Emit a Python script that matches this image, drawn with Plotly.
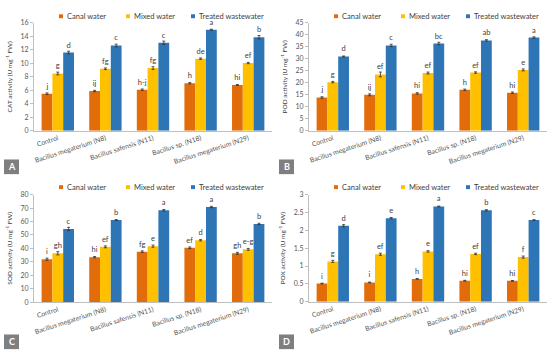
import plotly.graph_objects as go

# ---------------- data ----------------
categories = ["Control", "Bacillus megaterium (N8)", "Bacillus safensis (N11)",
              "Bacillus sp. (N18)", "Bacillus megaterium (N29)"]
series_names = ["Canal water", "Mixed water", "Treated wastewater"]

# A: CAT
cat_canal = [5.5, 5.9, 6.1, 7.05, 6.8]
cat_mixed = [8.5, 9.2, 9.3, 10.7, 10.05]
cat_treated = [11.6, 12.65, 13.05, 14.98, 13.87]
cat_canal_err = [0.12, 0.1, 0.1, 0.1, 0.06]
cat_mixed_err = [0.2, 0.12, 0.2, 0.1, 0.1]
cat_treated_err = [0.2, 0.2, 0.25, 0.08, 0.25]
cat_letters = [["j", "ij", "h-j", "h", "hi"], ["g", "fg", "fg", "de", "ef"], ["d", "c", "c", "a", "b"]]

# B: POD
pod_canal = [13.9, 15.0, 15.6, 17.1, 15.9]
pod_mixed = [20.3, 23.5, 24.1, 24.3, 25.4]
pod_treated = [31.0, 35.6, 36.4, 37.7, 38.9]
pod_canal_err = [0.3, 0.4, 0.3, 0.3, 0.3]
pod_mixed_err = [0.3, 1.0, 0.4, 0.3, 0.4]
pod_treated_err = [0.2, 0.5, 0.5, 0.3, 0.3]
pod_letters = [["j", "ij", "hi", "h", "hi"], ["g", "ef", "ef", "ef", "e"], ["d", "c", "bc", "ab", "a"]]

# C: SOD
sod_canal = [32.0, 33.5, 37.6, 40.5, 36.4]
sod_mixed = [36.4, 41.2, 41.7, 46.1, 39.3]
sod_treated = [54.5, 61.1, 68.4, 70.8, 58.2]
sod_canal_err = [0.8, 0.5, 0.6, 0.6, 0.7]
sod_mixed_err = [1.2, 0.7, 0.8, 0.5, 0.7]
sod_treated_err = [1.2, 0.4, 0.6, 0.5, 0.5]
sod_letters = [["i", "hi", "fg", "ef", "gh"], ["gh", "ef", "e", "d", "e-g"], ["c", "b", "a", "a", "b"]]

# D: POX
pox_canal = [0.51, 0.54, 0.64, 0.59, 0.585]
pox_mixed = [1.13, 1.33, 1.41, 1.34, 1.25]
pox_treated = [2.13, 2.34, 2.67, 2.56, 2.29]
pox_canal_err = [0.01, 0.01, 0.01, 0.01, 0.01]
pox_mixed_err = [0.03, 0.03, 0.02, 0.02, 0.03]
pox_treated_err = [0.03, 0.02, 0.01, 0.02, 0.01]
pox_letters = [["i", "i", "h", "hi", "hi"], ["g", "ef", "e", "ef", "f"], ["d", "e", "a", "b", "c"]]

y_titles = ["CAT activity (U mg<sup>-1</sup> FW)", "POD activity (U mg<sup>-1</sup> FW)",
            "SOD activity (U mg<sup>-1</sup> FW)", "POX activity (U mg<sup>-1</sup> FW)"]
y_ranges = [[0, 16], [0, 45], [0, 80], [0, 3]]
y_dticks = [2, 5, 10, 0.5]
panel_labels = ["A", "B", "C", "D"]

# ---------------- styling ----------------
W, H = 550, 358
colors = ["#E36C0A", "#FFC000", "#2E75B6"]
FONT = "Lato"
TXT = "#404040"
AX = "#BFBFBF"

panels = [
    dict(vals=[cat_canal, cat_mixed, cat_treated], errs=[cat_canal_err, cat_mixed_err, cat_treated_err], letters=cat_letters),
    dict(vals=[pod_canal, pod_mixed, pod_treated], errs=[pod_canal_err, pod_mixed_err, pod_treated_err], letters=pod_letters),
    dict(vals=[sod_canal, sod_mixed, sod_treated], errs=[sod_canal_err, sod_mixed_err, sod_treated_err], letters=sod_letters),
    dict(vals=[pox_canal, pox_mixed, pox_treated], errs=[pox_canal_err, pox_mixed_err, pox_treated_err], letters=pox_letters),
]
# pixel geometry: (x0, x1, ytop, ybottom)
geom = [(34, 272, 18.3, 128.7), (309, 547, 18.3, 128.7),
        (34, 272, 194, 304), (309, 547, 194, 303.5)]
quad_off = [(0, 0), (275, 0), (0, 179), (275, 179)]

def px_x(x):
    return x / W

def px_y(y):
    return 1 - y / H

fig = go.Figure()
layout = dict(width=W, height=H, margin=dict(l=0, r=0, t=0, b=0),
              paper_bgcolor="white", plot_bgcolor="white",
              barmode="group", bargap=0.32, bargroupgap=0,
              showlegend=False, font=dict(family=FONT, color=TXT))
shapes, annotations = [], []

for i, p in enumerate(panels):
    sfx = "" if i == 0 else str(i + 1)
    xa, ya = "x" + sfx, "y" + sfx
    for s in range(3):
        fig.add_trace(go.Bar(
            x=categories, y=p["vals"][s], name=series_names[s],
            marker=dict(color=colors[s], line=dict(width=0)),
            error_y=dict(type="data", array=p["errs"][s], color="#303030", thickness=0.8, width=1.5),
            text=p["letters"][s], textposition="outside", constraintext="none",
            textfont=dict(size=7.5, color=TXT, family=FONT),
            outsidetextfont=dict(size=7.5, color=TXT, family=FONT),
            cliponaxis=False,
            xaxis=xa, yaxis=ya,
        ))
    x0, x1, yt, yb = geom[i]
    layout["xaxis" + sfx] = dict(
        domain=[px_x(x0), px_x(x1)], anchor=ya, type="category", range=[-0.5, 4.5],
        showline=True, linecolor=AX, linewidth=1, ticks="", tickangle=-18,
        tickfont=dict(size=6.8, color="#595959", family=FONT), showgrid=False,
    )
    layout["yaxis" + sfx] = dict(
        domain=[px_y(yb), px_y(yt)], anchor=xa, range=y_ranges[i], dtick=y_dticks[i],
        showline=True, linecolor=AX, linewidth=1, ticks="outside", ticklen=3, tickcolor=AX,
        tickfont=dict(size=7, color="#595959", family=FONT), showgrid=False, zeroline=False,
        title=dict(text=y_titles[i], font=dict(size=6.5, color=TXT, family=FONT), standoff=7),
    )
    ox, oy = quad_off[i]
    # manual legend
    leg_y = oy + (11.5 if i < 2 else 7.3)
    for s, lx in enumerate([61, 128, 193]):
        cx = ox + lx
        shapes.append(dict(type="rect", xref="paper", yref="paper",
                           x0=px_x(cx - 2), x1=px_x(cx + 2), y0=px_y(leg_y + 2), y1=px_y(leg_y - 2),
                           fillcolor=colors[s], line=dict(width=0)))
        annotations.append(dict(text=series_names[s], xref="paper", yref="paper",
                                x=px_x(cx + 4), y=px_y(leg_y), xanchor="left", yanchor="middle",
                                showarrow=False, font=dict(size=7.5, color=TXT, family=FONT)))
    # panel label
    bx, by = ox + 4, oy + 158
    shapes.append(dict(type="rect", xref="paper", yref="paper",
                       x0=px_x(bx), x1=px_x(bx + 15), y0=px_y(by + 15), y1=px_y(by),
                       fillcolor="#7F7F7F", line=dict(width=0)))
    annotations.append(dict(text="<b>" + panel_labels[i] + "</b>", xref="paper", yref="paper",
                            x=px_x(bx + 7.5), y=px_y(by + 7.5), xanchor="center", yanchor="middle",
                            showarrow=False, font=dict(size=9, color="white", family=FONT)))

layout["shapes"] = shapes
layout["annotations"] = annotations
fig.update_layout(**layout)
fig.write_html("out.html", config={"displayModeBar": False},
               post_script="document.body.style.margin='0';document.body.style.padding='0';document.body.style.overflow='hidden';")
